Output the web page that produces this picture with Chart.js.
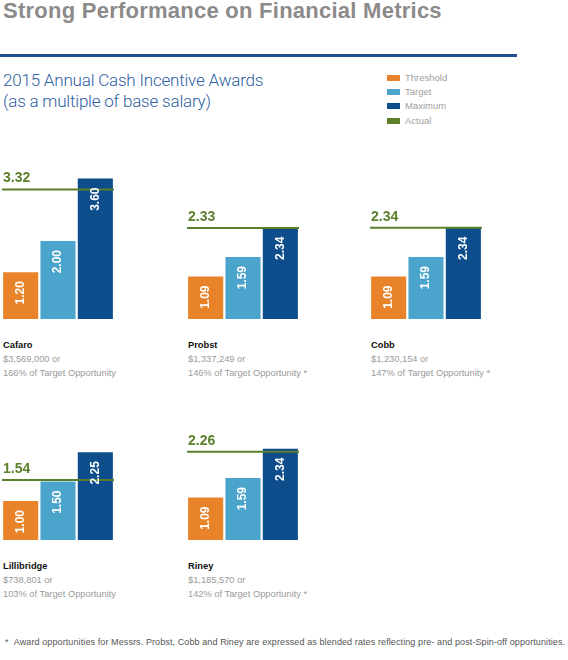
<!DOCTYPE html>
<html>
<head>
<meta charset="utf-8">
<script src="https://cdn.jsdelivr.net/npm/chart.js@4"></script>
<style>
  html, body { margin: 0; padding: 0; background: #fff; }
  body { width: 568px; height: 660px; position: relative; overflow: hidden; font-family: "Liberation Sans", Arial, sans-serif; }
  .abs { position: absolute; white-space: nowrap; }
  #title { left: 3px; top: -2px; font-size: 22px; letter-spacing: 0.25px; font-weight: bold; color: #8d8a8a; }
  #rule { left: 0; top: 54px; width: 517px; height: 3px; background: #1d4f91; }
  .sub { left: 3px; font-family: Roboto, "Liberation Sans", sans-serif; font-weight: 300; font-size: 17px; letter-spacing: -0.2px; color: #2d60a1; }
  .legend-row { left: 387px; height: 14px; font-size: 9.5px; color: #a0a0a0; line-height: 14px; }
  .legend-row span.sw { display: inline-block; width: 13px; height: 6px; margin-right: 5px; vertical-align: 0px; }
  .name { font-size: 9.3px; font-weight: bold; color: #111; }
  .info { font-size: 9.3px; color: #9a9a9a; }
  #footnote { left: 5px; top: 637px; font-size: 9px; letter-spacing: 0.1px; color: #555; }
  canvas { position: absolute; }
</style>
</head>
<body>
<div id="title" class="abs">Strong Performance on Financial Metrics</div>
<div id="rule" class="abs"></div>
<div class="abs sub" style="top:70px">2015 Annual Cash Incentive Awards</div>
<div class="abs sub" style="top:91px">(as a multiple of base salary)</div>
<div id="legend"></div>
<div id="charts"></div>
<div id="footnote" class="abs">*&nbsp;&nbsp;Award opportunities for Messrs. Probst, Cobb and Riney are expressed as blended rates reflecting pre- and post-Spin-off opportunities.</div>

<script>
// data
const people = ["Cafaro", "Probst", "Cobb", "Lillibridge", "Riney"];
const levels = ["Threshold", "Target", "Maximum"];
const threshold = [1.20, 1.09, 1.09, 1.00, 1.09];
const target = [2.00, 1.59, 1.59, 1.50, 1.59];
const maximum = [3.60, 2.34, 2.34, 2.25, 2.34];
const actual = [3.32, 2.33, 2.34, 1.54, 2.26];
const payout = ["$3,569,000", "$1,337,249", "$1,230,154", "$738,801", "$1,185,570"];
const pctOfTarget = ["166%", "146%", "147%", "103%", "142%"];
const blended = [false, true, true, false, true];

const colors = { Threshold: "#e8832a", Target: "#4ba4cc", Maximum: "#0d4d8c", Actual: "#5b7f2b" };

// panel placement
const panelLeft = [2, 187, 370, 2, 187];
const panelTop = [159, 159, 159, 380, 380];
const panelW = 112, panelH = 160;
const yMax = 4.1;

// legend
const legend = document.getElementById("legend");
levels.concat(["Actual"]).forEach(function (name, i) {
    const row = document.createElement("div");
    row.className = "abs legend-row";
    row.style.top = (71 + i * 14.2) + "px";
    row.innerHTML = '<span class="sw" style="background:' + colors[name] + '"></span>' + name;
    legend.appendChild(row);
});

// green "actual" rule across the panel plus its value
const actualLine = {
    id: "actualLine",
    afterDatasetsDraw(chart, args, opts) {
        const ctx = chart.ctx;
        const area = chart.chartArea;
        const y = chart.scales.y.getPixelForValue(opts.value);
        ctx.save();
        ctx.strokeStyle = colors.Actual;
        ctx.lineWidth = 2;
        ctx.beginPath();
        ctx.moveTo(area.left, y);
        ctx.lineTo(area.right, y);
        ctx.stroke();
        ctx.fillStyle = colors.Actual;
        ctx.font = "bold 14px 'Liberation Sans', Arial, sans-serif";
        ctx.textAlign = "left";
        ctx.textBaseline = "alphabetic";
        ctx.fillText(opts.value.toFixed(2), area.left + 1, y - 7);
        ctx.restore();
    }
};

// white values inside the bars
const barLabels = {
    id: "barLabels",
    afterDatasetsDraw(chart) {
        const ctx = chart.ctx;
        const meta = chart.getDatasetMeta(0);
        const vals = chart.data.datasets[0].data;
        ctx.save();
        ctx.fillStyle = "#fff";
        ctx.font = "bold 12px 'Liberation Sans', Arial, sans-serif";
        ctx.textAlign = "right";
        ctx.textBaseline = "middle";
        meta.data.forEach(function (bar, i) {
            ctx.save();
            ctx.translate(bar.x, bar.y + 9);
            ctx.rotate(-Math.PI / 2);
            ctx.fillText(vals[i].toFixed(2), 0, 0);
            ctx.restore();
        });
        ctx.restore();
    }
};

const charts = document.getElementById("charts");
people.forEach(function (person, i) {
    const canvas = document.createElement("canvas");
    canvas.width = panelW;
    canvas.height = panelH;
    canvas.style.left = panelLeft[i] + "px";
    canvas.style.top = panelTop[i] + "px";
    charts.appendChild(canvas);

    new Chart(canvas, {
        type: "bar",
        data: {
            labels: levels,
            datasets: [{
                data: [threshold[i], target[i], maximum[i]],
                backgroundColor: levels.map(function (l) { return colors[l]; }),
                barPercentage: 0.94,
                categoryPercentage: 1
            }]
        },
        options: {
            responsive: false,
            animation: false,
            events: [],
            layout: { padding: 0 },
            plugins: {
                legend: { display: false },
                tooltip: { enabled: false },
                actualLine: { value: actual[i] }
            },
            scales: {
                x: { display: false },
                y: { display: false, min: 0, max: yMax }
            }
        },
        plugins: [actualLine, barLabels]
    });

    const textTop = panelTop[i] + 180.5;
    const left = panelLeft[i] + 1;
    const lines = [
        ["name", person],
        ["info", payout[i] + " or"],
        ["info", pctOfTarget[i] + " of Target Opportunity" + (blended[i] ? " *" : "")]
    ];
    lines.forEach(function (ln, k) {
        const d = document.createElement("div");
        d.className = "abs " + ln[0];
        d.style.left = left + "px";
        d.style.top = (textTop + k * 14) + "px";
        d.textContent = ln[1];
        charts.appendChild(d);
    });
});
</script>
</body>
</html>
